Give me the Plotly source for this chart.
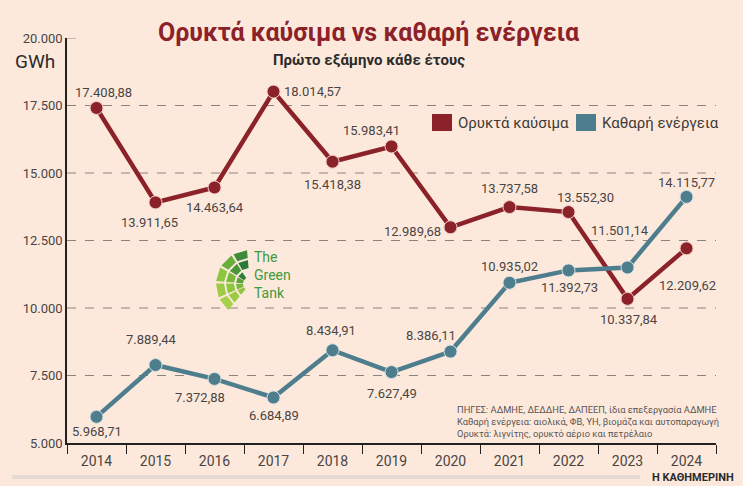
import math
import plotly.graph_objects as go

years = ["2014", "2015", "2016", "2017", "2018", "2019", "2020", "2021", "2022", "2023", "2024"]
fossil = [17408.88, 13911.65, 14463.64, 18014.57, 15418.38, 15983.41, 12989.68, 13737.58, 13552.30, 10337.84, 12209.62]
clean = [5968.71, 7889.44, 7372.88, 6684.89, 8434.91, 7627.49, 8386.11, 10935.02, 11392.73, 11501.14, 14115.77]
y_ticks = [5000, 7500, 10000, 12500, 15000, 17500, 20000]

# label offsets in pixels (dx, dy up)
fossil_off = [(7, 15), (-6, -20), (0, -20), (39, 0), (0, -23), (-20, 16), (-38, -4), (0, 19), (17, 15), (1, -21), (1, -37)]
clean_off = [(0, -15), (-4, 25), (-15, -19), (0, -18), (-2, 20), (0, -21), (-20, 16), (0, 16), (1, -17), (-8, 37), (0, 14)]

RED = "#8c2229"
BLUE = "#4e7e8e"
BG = "#fde9dc"
FONT = "Roboto, sans-serif"

L, R, T, B, W, H = 67, 27, 38, 43, 743, 486
PW, PH = W - L - R, H - T - B


def px(x):
    return (x - L) / PW


def py(y):
    return (H - B - y) / PH


def gr(v):
    s = f"{v:,.2f}"
    return s.replace(",", "X").replace(".", ",").replace("X", ".")


def grt(v):
    return f"{v:,.0f}".replace(",", ".")


fig = go.Figure()
fig.add_trace(go.Scatter(x=years, y=fossil, mode="lines+markers", name="Ορυκτά καύσιμα",
                         line=dict(color=RED, width=4.5), marker=dict(size=13, color=RED,
                         line=dict(color="#f3cfc8", width=1))))
fig.add_trace(go.Scatter(x=years, y=clean, mode="lines+markers", name="Καθαρή ενέργεια",
                         line=dict(color=BLUE, width=4.5), marker=dict(size=13, color=BLUE,
                         line=dict(color="#d5e0e0", width=1))))

shapes = []
for t in y_ticks[1:]:
    x1 = 0.024 if t == 20000 else 1
    shapes.append(dict(type="line", xref="paper", yref="y", x0=0, x1=x1, y0=t, y1=t,
                       line=dict(color="#8a8380", width=1, dash="dash"), layer="below"))

annotations = []
for i, (v, (dx, dy)) in enumerate(zip(fossil, fossil_off)):
    annotations.append(dict(x=i, y=v, text=gr(v), showarrow=False, xshift=dx, yshift=dy,
                            font=dict(family=FONT, size=13, color="#4a4543")))
for i, (v, (dx, dy)) in enumerate(zip(clean, clean_off)):
    annotations.append(dict(x=i, y=v, text=gr(v), showarrow=False, xshift=dx, yshift=dy,
                            font=dict(family=FONT, size=13, color="#4a4543")))

# title & subtitle
annotations.append(dict(xref="paper", yref="paper", x=px(369), y=py(33), xanchor="center", yanchor="middle",
                        text="<b>Ορυκτά καύσιμα vs καθαρή ενέργεια</b>", showarrow=False,
                        font=dict(family=FONT, size=25, color=RED)))
annotations.append(dict(xref="paper", yref="paper", x=px(369), y=py(60), xanchor="center", yanchor="middle",
                        text="<b>Πρώτο εξάμηνο κάθε έτους</b>", showarrow=False,
                        font=dict(family=FONT, size=15, color="#2b2b2b")))
annotations.append(dict(xref="paper", yref="paper", x=px(57), y=py(62), xanchor="right", yanchor="middle",
                        text="GWh", showarrow=False, font=dict(family=FONT, size=19, color="#2b2b2b")))

# legend
leg = [(432, "Ορυκτά καύσιμα", RED), (576, "Καθαρή ενέργεια", BLUE)]
for x0, name, col in leg:
    shapes.append(dict(type="rect", xref="paper", yref="paper", x0=px(x0), x1=px(x0 + 20),
                       y0=py(131), y1=py(114), fillcolor=col, line=dict(width=0)))
    annotations.append(dict(xref="paper", yref="paper", x=px(x0 + 24), y=py(123), xanchor="left",
                            yanchor="middle", text=name, showarrow=False,
                            font=dict(family=FONT, size=15, color="#3d3a38")))

# logo (The Green Tank) - fan of green tiles
cx, cy = 250, 284
rings = [(7, 14), (16, 24), (26, 34)]
angs = [(95, 119), (123, 147), (151, 175), (179, 203), (207, 230)]
tile_cols = [["#1f6f3a", "#2f7d3a", "#5ea33a", "#7ab83a", "#8dc63f"],
             ["#2a7a3a", "#4a963a", "#7ab83a", "#8dc63f", "#9ccc45"],
             ["#3f8b3a", "#6aae3a", "#8dc63f", "#9ccc45", "#a6d04a"]]
for ri, (r0, r1) in enumerate(rings):
    for ai, (a0, a1) in enumerate(angs):
        if ri == 0 and ai == 0:
            continue
        pts = []
        for a in (a0, a1):
            pts.append((cx + r1 * math.cos(math.radians(a)), cy - r1 * math.sin(math.radians(a))))
        for a in (a1, a0):
            pts.append((cx + r0 * math.cos(math.radians(a)), cy - r0 * math.sin(math.radians(a))))
        path = "M " + " L ".join(f"{px(x):.4f},{py(y):.4f}" for x, y in pts) + " Z"
        shapes.append(dict(type="path", xref="paper", yref="paper", path=path, layer="below",
                           fillcolor=tile_cols[ri][ai], line=dict(width=0)))
annotations.append(dict(xref="paper", yref="paper", x=px(252), y=py(275), xanchor="left", yanchor="middle",
                        text="The<br>Green<br>Tank", showarrow=False, align="left",
                        font=dict(family=FONT, size=14, color="#3e9a3c")))

# source note
annotations.append(dict(xref="paper", yref="paper", x=px(455), y=py(421), xanchor="left", yanchor="middle",
                        align="left", showarrow=False,
                        text="ΠΗΓΕΣ: ΑΔΜΗΕ, ΔΕΔΔΗΕ, ΔΑΠΕΕΠ, ίδια επεξεργασία ΑΔΜΗΕ<br>"
                             "Καθαρή ενέργεια: αιολικά, ΦΒ, ΥΗ, βιομάζα και αυτοπαραγωγή<br>"
                             "Ορυκτά: λιγνίτης, ορυκτό αέριο και πετρέλαιο",
                        font=dict(family=FONT, size=9.3, color="#5a5553")))

# bottom rule + brand
shapes.append(dict(type="line", xref="paper", yref="paper", x0=px(12), x1=px(640), y0=py(477), y1=py(477),
                   line=dict(color="#e6dbd3", width=4)))
annotations.append(dict(xref="paper", yref="paper", x=px(736), y=py(477), xanchor="right", yanchor="middle",
                        text="<b>Η ΚΑΘΗΜΕΡΙΝΗ</b>", showarrow=False,
                        font=dict(family=FONT, size=11, color="#2b2b2b")))

fig.update_layout(
    width=W, height=H,
    margin=dict(l=L, r=R, t=T, b=B),
    paper_bgcolor=BG, plot_bgcolor=BG,
    showlegend=False,
    shapes=shapes, annotations=annotations,
    font=dict(family=FONT, color="#4a4543"),
    xaxis=dict(type="category", range=[-0.5, 10.5], showgrid=False, showline=True,
               linecolor="#222222", linewidth=2, ticks="outside", tickson="boundaries",
               ticklen=9, tickwidth=1.2, tickcolor="#222222", ticklabelstandoff=4,
               tickfont=dict(family=FONT, size=14, color="#4a4543"), zeroline=False),
    yaxis=dict(range=[5000, 20000], tickvals=y_ticks, ticktext=[grt(t) for t in y_ticks],
               showgrid=False, showline=True, linecolor="#222222", linewidth=1.5,
               ticks="", tickfont=dict(family=FONT, size=13, color="#4a4543"), zeroline=False),
)

fig.write_html("out.html", config={"displayModeBar": False},
               post_script="document.body.style.margin='0';document.body.style.background='" + BG + "';")
